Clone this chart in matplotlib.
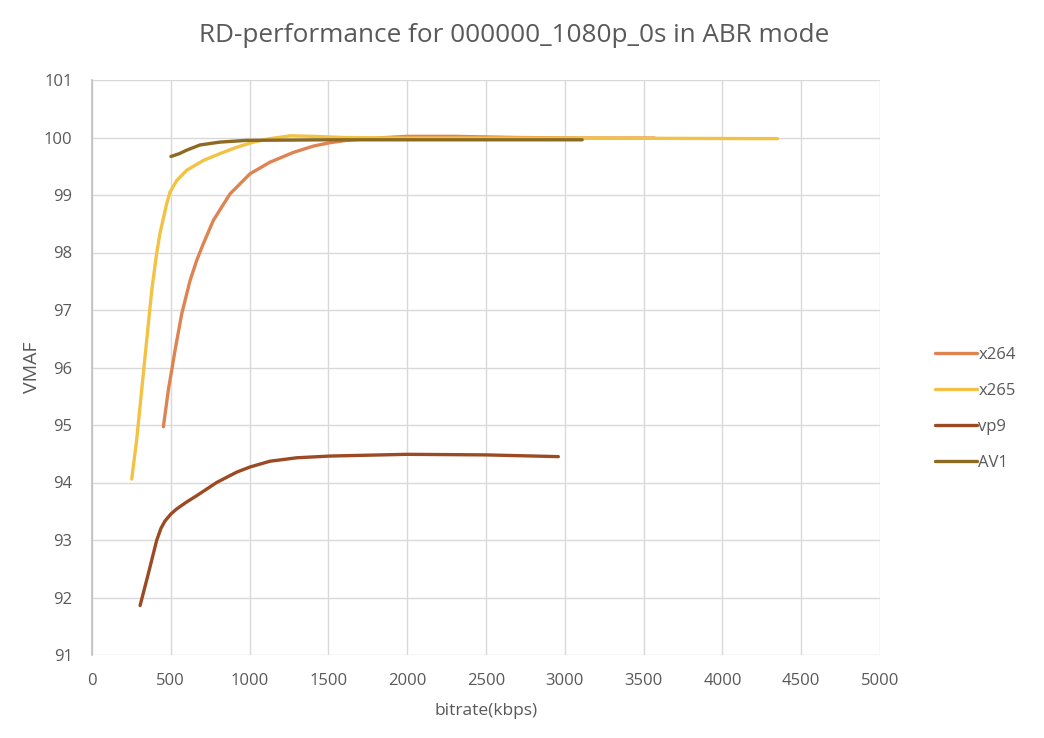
import matplotlib
matplotlib.use("Agg")
import matplotlib.pyplot as plt

plt.rcParams['font.family'] = ['Open Sans', 'DejaVu Sans']

# Data
x264_br = [453, 484, 527, 569, 622, 664, 706, 770, 876, 1003, 1129, 1277, 1404, 1510, 1616,
           1800, 2000, 2300, 2700, 3100, 3570]
x264_vmaf = [94.97, 95.6, 96.3, 96.93, 97.51, 97.86, 98.15, 98.56, 99.02, 99.37, 99.57,
             99.74, 99.85, 99.91, 99.95, 99.99, 100.02, 100.02, 100.0, 99.99, 99.99]

x265_br = [252, 283, 315, 347, 379, 410, 431, 474, 495, 537, 601, 706, 812, 918, 1024,
           1129, 1260, 1400, 1600, 2000, 3000, 4350]
x265_vmaf = [94.06, 94.73, 95.6, 96.47, 97.34, 97.98, 98.33, 98.85, 99.05, 99.25, 99.43,
             99.6, 99.72, 99.83, 99.92, 99.98, 100.03, 100.02, 100.0, 99.99, 99.99, 99.98]

vp9_br = [305, 357, 410, 437, 463, 500, 537, 600, 664, 791, 918, 1003, 1129, 1299, 1510,
          2000, 2500, 2959]
vp9_vmaf = [91.86, 92.41, 92.99, 93.2, 93.33, 93.45, 93.54, 93.66, 93.77, 94.0, 94.18,
            94.27, 94.37, 94.43, 94.46, 94.49, 94.48, 94.45]

av1_br = [501, 555, 601, 685, 812, 981, 1500, 2500, 3110]
av1_vmaf = [99.67, 99.72, 99.78, 99.87, 99.92, 99.95, 99.96, 99.96, 99.96]

series_names = ['x264', 'x265', 'vp9', 'AV1']
series_colors = ['#DE8452', '#F1C244', '#9B4A24', '#8C6A22']

x_ticks = [0, 500, 1000, 1500, 2000, 2500, 3000, 3500, 4000, 4500, 5000]
y_ticks = [91, 92, 93, 94, 95, 96, 97, 98, 99, 100, 101]

fig = plt.figure(figsize=(10.44, 7.38), dpi=100)
ax = fig.add_axes([92/1044, 1-655/738, (880-92)/1044, (655-80)/738])

data = [(x264_br, x264_vmaf), (x265_br, x265_vmaf), (vp9_br, vp9_vmaf), (av1_br, av1_vmaf)]
order = [2, 0, 1, 3]
lines = {}
for i in order:
    br, vm = data[i]
    ln, = ax.plot(br, vm, color=series_colors[i], lw=2.4, solid_capstyle='round',
                  solid_joinstyle='round', label=series_names[i], zorder=3+i)
    lines[i] = ln

ax.set_xlim(0, 5000)
ax.set_ylim(91, 101)
ax.set_xticks(x_ticks)
ax.set_yticks(y_ticks)
ax.grid(True, color='#D9D9D9', lw=1.0)
ax.set_axisbelow(True)
for s in ['top', 'right', 'bottom']:
    ax.spines[s].set_visible(False)
ax.spines['left'].set_color('#BFBFBF')
ax.spines['left'].set_linewidth(1.2)
ax.tick_params(length=0, labelsize=12, colors='#595959', pad=14)
ax.tick_params(axis='x', pad=13)

ax.set_xlabel('bitrate(kbps)', fontsize=12.5, color='#595959', labelpad=10)
ax.set_ylabel('VMAF', fontsize=14, color='#595959', labelpad=2)
fig.text(514/1044, 1-35/738, 'RD-performance for 000000_1080p_0s in ABR mode',
         ha='center', va='center', fontsize=18.8, color='#595959')

fig.legend([lines[i] for i in range(4)], series_names, loc='center left',
           bbox_to_anchor=(920/1044, 1-409/738), frameon=False, fontsize=12,
           handlelength=2.5, handletextpad=0.1, labelspacing=1.2,
           labelcolor='#595959')

fig.savefig('out.png', dpi=100)
